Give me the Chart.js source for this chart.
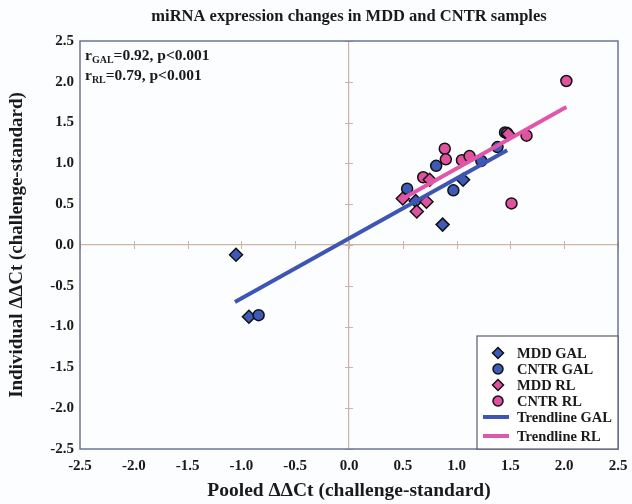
<!DOCTYPE html>
<html>
<head>
<meta charset="utf-8">
<script src="https://cdn.jsdelivr.net/npm/chart.js@4.4.1/dist/chart.umd.min.js"></script>
<style>
  html, body { margin: 0; padding: 0; background: #fcfdff; }
  #wrap { width: 632px; height: 504px; }
</style>
</head>
<body>
<div id="wrap"><canvas id="chart"></canvas></div>
<script>
// values
const mddGalX = [-1.05, -0.93, 0.87, 0.62, 1.06];
const mddGalY = [-0.12, -0.88, 0.25, 0.54, 0.80];

const cntrGalX = [-0.84, 0.54, 0.81, 0.97, 1.23, 1.38, 1.45];
const cntrGalY = [-0.86, 0.69, 0.97, 0.67, 1.03, 1.20, 1.38];

const mddRlX = [0.50, 0.63, 0.72, 0.75, 1.48];
const mddRlY = [0.57, 0.41, 0.53, 0.80, 1.36];

const cntrRlX = [0.69, 0.89, 0.90, 1.05, 1.12, 1.47, 1.65, 1.51, 2.02];
const cntrRlY = [0.83, 1.18, 1.05, 1.04, 1.09, 1.37, 1.34, 0.51, 2.01];

const trendGalX = [-1.06, 1.47];
const trendGalY = [-0.70, 1.16];
const trendRlX = [0.49, 2.02];
const trendRlY = [0.56, 1.69];

const statLines = [
  { sub: "GAL", rest: "=0.92, p<0.001" },
  { sub: "RL", rest: "=0.79, p<0.001" },
];

const BLUE = "#3d5bb6";
const PINK = "#e0529f";
const LINE_BLUE = "#3f55b3";
const LINE_PINK = "#e056a8";
const ZERO = "#cdb4a4";
const FRAME = "#6c7398";
const SERIF = "'Liberation Serif', 'Times New Roman', serif";

function toPoints(xs, ys) {
  return xs.map((x, i) => ({ x: x, y: ys[i] }));
}

function markerSet(label, xs, ys, color, style, radius) {
  return {
    label: label,
    data: toPoints(xs, ys),
    backgroundColor: color,
    borderColor: "#111",
    borderWidth: 1.5,
    pointStyle: style,
    pointRadius: radius,
    pointHoverRadius: radius,
    showLine: false,
  };
}

function trendSet(label, xs, ys, color) {
  return {
    label: label,
    data: toPoints(xs, ys),
    borderColor: color,
    backgroundColor: color,
    borderWidth: 4,
    pointRadius: 0,
    showLine: true,
    fill: false,
    order: 0,
  };
}

const datasets = [
  trendSet("Trendline GAL", trendGalX, trendGalY, LINE_BLUE),
  trendSet("Trendline RL", trendRlX, trendRlY, LINE_PINK),
  Object.assign(markerSet("MDD RL", mddRlX, mddRlY, PINK, "rectRot", 6.5), { order: 1 }),
  Object.assign(markerSet("CNTR RL", cntrRlX, cntrRlY, PINK, "circle", 5.5), { order: 2 }),
  Object.assign(markerSet("CNTR GAL", cntrGalX, cntrGalY, BLUE, "circle", 5.5), { order: 3 }),
  Object.assign(markerSet("MDD GAL", mddGalX, mddGalY, BLUE, "rectRot", 6.5), { order: 4 }),
];

const legendOrder = ["MDD GAL", "CNTR GAL", "MDD RL", "CNTR RL", "Trendline GAL", "Trendline RL"];

// zero axes carry small tick marks
const zeroTicks = {
  id: "zeroTicks",
  beforeDatasetsDraw(chart) {
    const { ctx, scales: { x, y } } = chart;
    const x0 = x.getPixelForValue(0);
    const y0 = y.getPixelForValue(0);
    ctx.save();
    ctx.strokeStyle = ZERO;
    ctx.lineWidth = 1;
    x.ticks.forEach((t) => {
      const px = Math.round(x.getPixelForValue(t.value)) + 0.5;
      ctx.beginPath();
      ctx.moveTo(px, y0 - 4);
      ctx.lineTo(px, y0 + 4);
      ctx.stroke();
    });
    y.ticks.forEach((t) => {
      const py = Math.round(y.getPixelForValue(t.value)) + 0.5;
      ctx.beginPath();
      ctx.moveTo(x0 - 4, py);
      ctx.lineTo(x0 + 4, py);
      ctx.stroke();
    });
    ctx.restore();
  },
};

function drawSymbol(ctx, ds, cx, cy) {
  ctx.save();
  if (ds.showLine) {
    ctx.strokeStyle = ds.borderColor;
    ctx.lineWidth = 4;
    ctx.beginPath();
    ctx.moveTo(cx - 15, cy);
    ctx.lineTo(cx + 11, cy);
    ctx.stroke();
  } else {
    ctx.fillStyle = ds.backgroundColor;
    ctx.strokeStyle = ds.borderColor;
    ctx.lineWidth = 1.5;
    ctx.beginPath();
    if (ds.pointStyle === "circle") {
      ctx.arc(cx, cy, 5, 0, Math.PI * 2);
    } else {
      ctx.moveTo(cx, cy - 5.5);
      ctx.lineTo(cx + 5.5, cy);
      ctx.lineTo(cx, cy + 5.5);
      ctx.lineTo(cx - 5.5, cy);
      ctx.closePath();
    }
    ctx.fill();
    ctx.stroke();
  }
  ctx.restore();
}

const frameAndNotes = {
  id: "frameAndNotes",
  afterDraw(chart) {
    const { ctx, chartArea: a } = chart;
    ctx.save();
    // plot frame
    ctx.strokeStyle = FRAME;
    ctx.lineWidth = 1.5;
    ctx.strokeRect(a.left, a.top, a.right - a.left, a.bottom - a.top);

    // correlation notes
    ctx.fillStyle = "#1a1a1a";
    ctx.textBaseline = "alphabetic";
    statLines.forEach((s, i) => {
      let px = a.left + 5;
      const py = a.top + 19 + i * 20;
      ctx.font = "bold 15.5px " + SERIF;
      ctx.fillText("r", px, py);
      px += ctx.measureText("r").width;
      ctx.font = "bold 10px " + SERIF;
      ctx.fillText(s.sub, px, py + 3);
      px += ctx.measureText(s.sub).width;
      ctx.font = "bold 15.5px " + SERIF;
      ctx.fillText(s.rest, px, py);
    });

    // legend box
    const bw = 141, bh = 113;
    const bx = a.right - bw, by = a.bottom - bh;
    ctx.fillStyle = "#ffffff";
    ctx.fillRect(bx, by, bw, bh);
    ctx.strokeStyle = "#555a70";
    ctx.lineWidth = 1.2;
    ctx.strokeRect(bx, by, bw, bh);
    const rowY = [17, 33, 49, 65, 81, 100];
    legendOrder.forEach((name, i) => {
      const ds = chart.data.datasets.find((d) => d.label === name);
      const cy = by + rowY[i];
      drawSymbol(ctx, ds, bx + 21, cy);
      ctx.fillStyle = "#1a1a1a";
      ctx.font = "bold 14.5px " + SERIF;
      ctx.textBaseline = "middle";
      ctx.fillText(name, bx + 40, cy + 1);
    });
    ctx.restore();
  },
};

const tickFont = { family: SERIF, size: 15, weight: "bold" };

function zeroGrid(ctx) {
  return ctx.tick && Math.abs(ctx.tick.value) < 1e-9 ? ZERO : "rgba(0,0,0,0)";
}

new Chart(document.getElementById("chart"), {
  type: "scatter",
  data: { datasets: datasets },
  options: {
    responsive: true,
    maintainAspectRatio: false,
    animation: false,
    layout: { padding: { left: 0, right: 14, top: 0, bottom: 0 } },
    plugins: {
      legend: { display: false },
      tooltip: { enabled: false },
      title: {
        display: true,
        text: "miRNA expression changes in MDD and CNTR samples",
        font: { family: SERIF, size: 16.5, weight: "bold" },
        color: "#1a1a1a",
        fullSize: false,
        padding: { top: 7, bottom: 14.2 },
      },
    },
    scales: {
      x: {
        type: "linear",
        min: -2.5,
        max: 2.5,
        ticks: {
          stepSize: 0.5,
          font: tickFont,
          color: "#1a1a1a",
          padding: 8,
          callback: (v) => v.toFixed(1),
        },
        grid: { color: zeroGrid, lineWidth: 1.2, drawTicks: false },
        border: { display: false },
        title: {
          display: true,
          text: "Pooled ΔΔCt (challenge-standard)",
          font: { family: SERIF, size: 19.5, weight: "bold" },
          color: "#1a1a1a",
          padding: { top: 2, bottom: 1 },
        },
        afterFit: (s) => {
          s.height = 55;
          s.paddingLeft = 0;
          s.paddingRight = 0;
        },
      },
      y: {
        type: "linear",
        min: -2.5,
        max: 2.5,
        ticks: {
          stepSize: 0.5,
          font: tickFont,
          color: "#1a1a1a",
          padding: 6,
          callback: (v) => v.toFixed(1),
        },
        grid: { color: zeroGrid, lineWidth: 1.2, drawTicks: false },
        border: { display: false },
        title: {
          display: true,
          text: "Individual ΔΔCt (challenge-standard)",
          font: { family: SERIF, size: 19, weight: "bold" },
          color: "#1a1a1a",
          padding: { top: 6, bottom: 2 },
        },
        afterFit: (s) => { s.width = 80; },
      },
    },
  },
  plugins: [zeroTicks, frameAndNotes],
});
</script>
</body>
</html>
